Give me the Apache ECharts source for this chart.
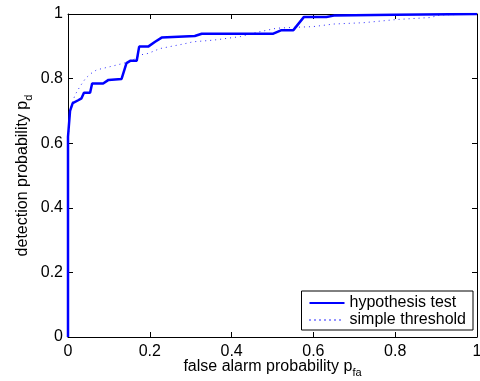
<!DOCTYPE html>
<html>
<head>
<meta charset="utf-8">
<script src="https://cdn.jsdelivr.net/npm/echarts@6/dist/echarts.min.js"></script>
<style>html,body{margin:0;padding:0;background:#fff}#c{width:480px;height:381px}</style>
</head>
<body>
<div id="c"></div>
<script>
var seriesNames = ['hypothesis test', 'simple threshold'];
var tickValues = [0, 0.2, 0.4, 0.6, 0.8, 1];
var hypX = [0, 0, 0.005, 0.0115, 0.025, 0.033, 0.039, 0.054, 0.059, 0.086, 0.099, 0.131, 0.143, 0.152, 0.168, 0.174, 0.196, 0.213, 0.229, 0.31, 0.327, 0.502, 0.522, 0.551, 0.577, 0.632, 0.65, 0.8, 1];
var hypY = [0, 0.62, 0.70, 0.724, 0.733, 0.739, 0.756, 0.756, 0.785, 0.785, 0.796, 0.799, 0.848, 0.855, 0.855, 0.899, 0.899, 0.914, 0.927, 0.932, 0.939, 0.939, 0.950, 0.950, 0.991, 0.991, 0.995, 0.998, 1];
var thrX = [0, 0, 0.005, 0.017, 0.029, 0.042, 0.054, 0.07, 0.103, 0.135, 0.156, 0.176, 0.196, 0.225, 0.249, 0.282, 0.306, 0.355, 0.421, 0.461, 0.51, 0.559, 0.60, 0.65, 0.722, 0.804, 0.885, 0.91, 1];
var thrY = [0, 0.6, 0.703, 0.749, 0.775, 0.799, 0.814, 0.827, 0.837, 0.847, 0.855, 0.873, 0.878, 0.893, 0.899, 0.907, 0.914, 0.919, 0.930, 0.943, 0.956, 0.959, 0.961, 0.969, 0.973, 0.983, 0.989, 0.997, 1];

function pairs(xs, ys) { return xs.map(function (x, i) { return [x, ys[i]]; }); }

var FONT = 'Liberation Sans, Arial, sans-serif';
var FS = 16;
var axisCommon = {
  type: 'value', min: 0, max: 1, interval: 0.2,
  axisLine: { show: true, onZero: false, lineStyle: { color: '#000', width: 1 } },
  axisTick: { show: true, inside: true, length: 5, lineStyle: { color: '#000' } },
  splitLine: { show: false }
};
function fmt(v) { return tickValues.indexOf(v) >= 0 ? String(v) : ''; }

var chart = echarts.init(document.getElementById('c'), null, { renderer: 'canvas' });
chart.setOption({
  animation: false,
  backgroundColor: '#fff',
  grid: { left: 68, right: 3, top: 14, bottom: 44, containLabel: false, outerBoundsMode: 'none' },
  legend: {
    data: seriesNames,
    orient: 'vertical',
    right: 7, bottom: 51,
    itemWidth: 35, itemHeight: 14, itemGap: 1,
    padding: [4, 7, 2, 7],
    borderColor: '#000', borderWidth: 1, backgroundColor: '#fff',
    itemStyle: { opacity: 0 },
    textStyle: { fontFamily: FONT, fontSize: FS, color: '#000' }
  },
  xAxis: [
    Object.assign({}, axisCommon, {
      position: 'bottom',
      axisLabel: { fontFamily: FONT, fontSize: FS, color: '#000', margin: 7, formatter: fmt },
      name: '{m|false alarm probability p}{s|fa}',
      nameLocation: 'middle', nameGap: 19, nameMoveOverlap: false,
      nameTextStyle: { rich: {
        m: { fontFamily: FONT, fontSize: FS, color: '#000' },
        s: { fontFamily: FONT, fontSize: 11, color: '#000', padding: [11, 0, 0, 0] }
      } }
    }),
    Object.assign({}, axisCommon, { position: 'top', axisLabel: { show: false } })
  ],
  yAxis: [
    Object.assign({}, axisCommon, {
      position: 'left',
      axisLabel: { fontFamily: FONT, fontSize: FS, color: '#000', margin: 5, formatter: fmt },
      name: '{m|detection probability p}{s|d}',
      nameLocation: 'middle', nameGap: 34, nameRotate: 90, nameMoveOverlap: false,
      nameTextStyle: { rich: {
        m: { fontFamily: FONT, fontSize: FS, color: '#000' },
        s: { fontFamily: FONT, fontSize: 11, color: '#000', padding: [11, 0, 0, 0] }
      } }
    }),
    Object.assign({}, axisCommon, { position: 'right', axisLabel: { show: false } })
  ],
  series: [
    {
      name: seriesNames[0], type: 'line', xAxisIndex: 0, yAxisIndex: 0,
      data: pairs(hypX, hypY), symbol: 'none', showSymbol: false,
      lineStyle: { color: '#0000ff', width: 2.5, type: 'solid' },
      itemStyle: { color: '#0000ff' }, z: 3
    },
    {
      name: seriesNames[1], type: 'line', xAxisIndex: 0, yAxisIndex: 0,
      data: pairs(thrX, thrY), symbol: 'none', showSymbol: false,
      lineStyle: { color: '#2a2aff', width: 1, type: [1, 4] },
      itemStyle: { color: '#2a2aff' }, z: 2
    }
  ]
});
</script>
</body>
</html>
